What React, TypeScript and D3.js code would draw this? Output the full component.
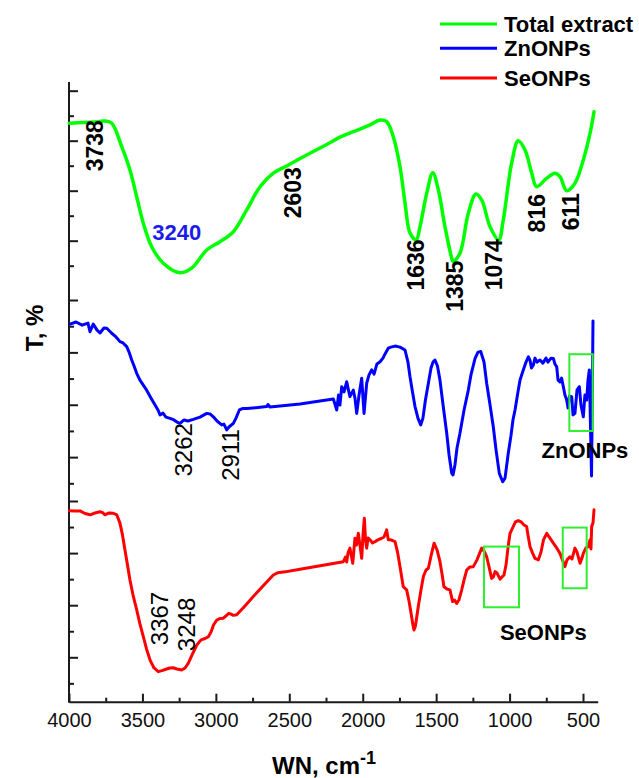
import React, { useEffect, useRef } from "react"
import * as d3 from "d3"

const xMajorTicks = [4000, 3500, 3000, 2500, 2000, 1500, 1000, 500]
const xMinorTicks = [3750, 3250, 2750, 2250, 1750, 1250, 750]
const yMajorTicks = [80, 60, 40, 20]
const yMinorTicks = [70, 50, 30, 10]

const seriesNames = ["Total extract", "ZnONPs", "SeONPs"]

// [wavenumber cm-1, transmittance (arb., per panel)]
const totalExtract: [number, number][] = [
  [3998, 67.0], [3900, 67.3], [3800, 67.6], [3755, 67.9], [3709, 67.0], [3641, 57.6],
  [3585, 48.3], [3539, 37.6], [3494, 27.0], [3437, 17.6], [3358, 11.0], [3244, 7.2],
  [3165, 9.0], [3062, 16.3], [2972, 19.6], [2881, 23.6], [2790, 32.3], [2699, 41.6],
  [2609, 47.0], [2518, 49.9], [2381, 54.3], [2245, 58.5], [2155, 61.4], [2064, 63.6],
  [1950, 66.3], [1882, 68.3], [1837, 67.6], [1792, 61.6], [1746, 49.6], [1712, 35.1],
  [1678, 23.1], [1636, 20.3], [1610, 25.6], [1564, 39.0], [1523, 47.2], [1485, 40.3],
  [1440, 25.6], [1394, 13.0], [1385, 11.6], [1338, 15.0], [1281, 31.0], [1229, 38.7],
  [1190, 36.3], [1133, 25.6], [1074, 20.3], [1043, 28.3], [986, 51.0], [941, 60.0],
  [895, 56.3], [849, 47.0], [816, 41.6], [747, 45.0], [691, 47.0], [657, 45.6],
  [611, 40.0], [555, 43.0], [498, 52.3], [452, 63.0], [425, 71.6],
]

const znONPs: [number, number][] = [
  [3993, 70.8], [3952, 71.6], [3911, 70.4], [3871, 71.2], [3857, 67.9], [3835, 70.8],
  [3809, 68.5], [3789, 67.4], [3762, 69.3], [3743, 69.2], [3709, 67.3], [3680, 65.9],
  [3653, 64.1], [3632, 63.6], [3607, 62.2], [3591, 60.1], [3573, 57.1], [3557, 54.8],
  [3539, 52.0], [3517, 49.4], [3494, 47.5], [3476, 46.0], [3460, 44.4], [3442, 42.6],
  [3414, 39.9], [3394, 38.0], [3380, 36.1], [3360, 36.8], [3340, 35.3], [3312, 34.8],
  [3285, 34.2], [3265, 33.4], [3244, 32.9], [3217, 34.2], [3190, 33.8], [3154, 34.4],
  [3108, 35.3], [3062, 36.7], [3040, 36.5], [3017, 35.4], [2992, 33.8], [2960, 32.3],
  [2945, 32.6], [2926, 30.4], [2911, 31.5], [2881, 32.9], [2863, 34.9], [2840, 38.0],
  [2815, 38.6], [2790, 38.6], [2727, 38.9], [2654, 39.3], [2645, 40.1], [2631, 39.1],
  [2427, 40.3], [2200, 42.2], [2177, 38.0], [2165, 43.7], [2155, 39.9], [2143, 46.9],
  [2127, 44.9], [2109, 48.8], [2097, 45.6], [2087, 43.1], [2064, 45.6], [2053, 42.6],
  [2041, 36.7], [2025, 43.7], [2007, 50.1], [1991, 36.7], [1973, 48.2], [1957, 51.4],
  [1939, 53.3], [1923, 51.7], [1903, 55.6], [1882, 56.4], [1862, 57.8], [1848, 59.4],
  [1826, 61.6], [1808, 62.0], [1780, 62.4], [1746, 62.0], [1712, 60.9], [1692, 56.3],
  [1678, 50.7], [1661, 44.9], [1644, 39.3], [1624, 34.9], [1605, 32.3], [1590, 34.9],
  [1573, 41.8], [1553, 48.2], [1535, 54.0], [1521, 56.3], [1508, 57.1], [1491, 54.8],
  [1474, 49.4], [1453, 39.9], [1428, 29.1], [1412, 20.8], [1394, 13.8], [1385, 13.2],
  [1372, 17.0], [1358, 23.5], [1338, 29.1], [1310, 38.0], [1281, 45.6], [1263, 51.4],
  [1235, 57.7], [1215, 60.1], [1196, 60.3], [1187, 58.6], [1174, 56.3], [1156, 48.2],
  [1133, 39.9], [1111, 31.6], [1092, 22.7], [1070, 13.8], [1047, 10.6], [1031, 12.0],
  [1009, 21.5], [990, 28.4], [977, 34.2], [963, 38.0], [943, 44.9], [929, 49.4],
  [909, 52.9], [888, 56.3], [872, 58.3], [861, 57.0], [851, 54.0], [838, 55.2],
  [827, 57.8], [813, 56.3], [793, 57.1], [773, 55.9], [752, 57.8], [739, 56.3],
  [718, 57.8], [702, 57.7], [691, 55.5], [679, 54.5], [670, 49.4], [657, 48.7],
  [646, 50.2], [634, 46.9], [623, 43.7], [611, 41.8], [602, 38.8], [592, 43.3],
  [577, 43.1], [568, 36.1], [555, 36.7], [541, 45.6], [525, 46.9], [514, 39.9],
  [498, 35.4], [487, 43.7], [475, 41.8], [466, 49.4], [457, 53.3], [442, 12.8],
  [432, 72.0],
]

const seONPs: [number, number][] = [
  [3998, 76.3], [3959, 76.2], [3925, 76.2], [3891, 75.2], [3857, 74.7], [3823, 75.4],
  [3789, 75.9], [3768, 75.4], [3755, 74.7], [3728, 75.4], [3698, 75.3], [3675, 74.7],
  [3653, 71.5], [3636, 67.0], [3619, 61.2], [3602, 55.5], [3585, 49.7], [3564, 43.9],
  [3539, 38.2], [3517, 32.8], [3494, 27.9], [3472, 23.2], [3448, 18.9], [3421, 15.9],
  [3392, 14.5], [3367, 14.9], [3335, 15.5], [3313, 15.9], [3291, 16.0], [3265, 15.5],
  [3233, 15.1], [3210, 15.9], [3188, 17.7], [3162, 20.9], [3130, 24.7], [3101, 26.7],
  [3074, 27.2], [3051, 27.9], [3033, 29.7], [3016, 32.4], [2994, 34.3], [2972, 34.9],
  [2949, 35.0], [2931, 35.9], [2914, 36.8], [2897, 36.6], [2880, 36.1], [2858, 36.3],
  [2802, 39.7], [2745, 43.3], [2679, 47.4], [2609, 51.6], [2577, 52.5], [2529, 52.8],
  [2427, 53.8], [2132, 56.7], [2117, 58.5], [2109, 56.6], [2100, 60.1], [2087, 61.9],
  [2068, 56.1], [2053, 65.7], [2042, 63.1], [2030, 67.6], [2019, 63.1], [2007, 58.0],
  [1998, 67.0], [1989, 73.4], [1981, 65.1], [1973, 61.9], [1964, 65.8], [1950, 65.1],
  [1933, 63.9], [1916, 64.4], [1896, 65.1], [1871, 65.7], [1855, 66.2], [1837, 68.9],
  [1826, 65.1], [1808, 65.1], [1780, 64.4], [1763, 60.4], [1746, 54.8], [1724, 47.1],
  [1701, 45.9], [1685, 41.6], [1667, 35.6], [1658, 32.4], [1651, 30.5], [1641, 32.0],
  [1622, 39.4], [1603, 45.9], [1587, 51.0], [1569, 53.5], [1553, 54.2], [1535, 58.9],
  [1514, 63.8], [1494, 61.2], [1474, 56.7], [1460, 52.0], [1447, 47.1], [1426, 46.2],
  [1406, 45.9], [1388, 41.4], [1375, 42.0], [1360, 40.7], [1345, 42.0], [1326, 45.9],
  [1310, 49.7], [1292, 53.5], [1270, 54.7], [1247, 54.8], [1222, 57.4], [1190, 61.9],
  [1174, 60.8], [1156, 58.6], [1140, 54.7], [1122, 50.3], [1110, 50.9], [1099, 52.9],
  [1086, 52.4], [1065, 50.0], [1052, 50.8], [1038, 51.6], [1024, 55.5], [1011, 62.0],
  [997, 67.6], [977, 70.0], [960, 72.0], [941, 72.5], [922, 72.0], [902, 70.8],
  [884, 70.2], [875, 67.0], [861, 62.5], [844, 60.1], [827, 58.0], [804, 57.4],
  [786, 60.4], [769, 65.1], [747, 67.6], [731, 66.2], [702, 63.8], [677, 61.8],
  [657, 59.9], [640, 57.4], [623, 54.8], [609, 57.4], [589, 58.6], [575, 57.8],
  [555, 61.9], [541, 60.4], [520, 56.1], [507, 58.1], [498, 59.9], [480, 62.0],
  [464, 62.5], [452, 65.1], [446, 61.6], [441, 70.2], [432, 71.6], [425, 76.6],
]

// peak labels: text, wavenumber and level where the label is centred
const totalLabels = [
  { text: "3738", wn: 3825, t: 58.0 },
  { text: "2603", wn: 2480, t: 39.2 },
  { text: "1636", wn: 1636, t: 10.3 },
  { text: "1385", wn: 1375, t: 1.8 },
  { text: "1074", wn: 1106, t: 10.4 },
  { text: "816", wn: 815, t: 31.0 },
  { text: "611", wn: 586, t: 31.6 },
]
const totalNote = { text: "3240", wn: 3267, t: 23.6 }
const znLabels = [
  { text: "3262", wn: 3220, t: 22.8 },
  { text: "2911", wn: 2898, t: 20.8 },
]
const seLabels = [
  { text: "3367", wn: 3388, t: 34.9 },
  { text: "3248", wn: 3204, t: 32.6 },
]
const znBoxes = [{ wn0: 593, wn1: 434, t0: 59.3, t1: 30.0 }]
const seBoxes = [
  { wn0: 1174, wn1: 936, t0: 62.5, t1: 39.2 },
  { wn0: 638, wn1: 475, t0: 69.8, t1: 46.5 },
]
const znTag = { text: "ZnONPs", wn: 487, t: 22.7 }
const seTag = { text: "SeONPs", wn: 770, t: 29.8 }

const W = 639
const H = 778
const FONT = "'Liberation Sans', Arial, Helvetica, sans-serif"
const colors = ["#00ff00", "#0000ff", "#ff0000"]
const panelRanges: [number, number][] = [
  [290.7, 90.7],
  [509.5, 300],
  [709.4, 501],
]
const axisY = 701.7

export default function App() {
  const svgRef = useRef<SVGSVGElement>(null)

  useEffect(() => {
    if (!svgRef.current) return
    const svg = d3.select(svgRef.current)
    svg.selectAll("*").remove()

    const x = d3.scaleLinear().domain([4000, 400]).range([69, 597.7])
    const ys = panelRanges.map((r) => d3.scaleLinear().domain([0, 80]).range(r))

    // x axis
    const gx = svg.append("g").attr("transform", `translate(0,${axisY})`)
    gx.call(
      d3
        .axisBottom(x)
        .tickValues(xMajorTicks)
        .tickSize(-8)
        .tickSizeOuter(0)
        .tickPadding(11)
        .tickFormat(d3.format("d"))
    )
    gx.append("g").call(
      d3.axisBottom(x).tickValues(xMinorTicks).tickSize(-4).tickFormat(() => "")
    )
    gx.selectAll("g > g > path.domain").remove()
    gx.selectAll("path.domain").attr("stroke", "#1a1a1a").attr("stroke-width", 2)
    gx.selectAll("line").attr("stroke", "#1a1a1a").attr("stroke-width", 2)
    gx.selectAll("text")
      .attr("font-family", FONT)
      .attr("font-size", 20)
      .attr("fill", "#111")

    // y axis line + per-panel ticks
    svg
      .append("line")
      .attr("x1", 69)
      .attr("x2", 69)
      .attr("y1", 82)
      .attr("y2", axisY + 1)
      .attr("stroke", "#1a1a1a")
      .attr("stroke-width", 2)
    ys.forEach((y) => {
      const g = svg.append("g").attr("transform", "translate(69,0)")
      g.call(d3.axisLeft(y).tickValues(yMajorTicks).tickSize(-9).tickFormat(() => ""))
      g.append("g").call(
        d3.axisLeft(y).tickValues(yMinorTicks).tickSize(-5).tickFormat(() => "")
      )
      g.selectAll("path.domain").remove()
      g.selectAll("line").attr("stroke", "#1a1a1a").attr("stroke-width", 2)
    })

    // spectra
    const series = [totalExtract, znONPs, seONPs]
    series.forEach((data, i) => {
      const line = d3
        .line<[number, number]>()
        .x((d) => x(d[0]))
        .y((d) => ys[i](d[1]))
        .curve(i === 0 ? d3.curveCatmullRom.alpha(0.5) : d3.curveLinear)
      svg
        .append("path")
        .datum(data)
        .attr("d", line)
        .attr("fill", "none")
        .attr("stroke", colors[i])
        .attr("stroke-width", i === 0 ? 3.5 : 3)
        .attr("stroke-linejoin", "round")
        .attr("stroke-linecap", "round")
    })

    // highlight boxes
    const boxes = [
      { y: ys[1], list: znBoxes },
      { y: ys[2], list: seBoxes },
    ]
    boxes.forEach(({ y, list }) => {
      svg
        .append("g")
        .selectAll("rect")
        .data(list)
        .enter()
        .append("rect")
        .attr("x", (d) => x(d.wn0))
        .attr("y", (d) => y(d.t0))
        .attr("width", (d) => x(d.wn1) - x(d.wn0))
        .attr("height", (d) => y(d.t1) - y(d.t0))
        .attr("fill", "none")
        .attr("stroke", "#2eee2e")
        .attr("stroke-width", 2)
    })

    // rotated peak labels
    const addRotated = (
      list: { text: string; wn: number; t: number }[],
      y: d3.ScaleLinear<number, number>,
      weight: string,
      size: number
    ) => {
      svg
        .append("g")
        .selectAll("text")
        .data(list)
        .enter()
        .append("text")
        .attr("transform", (d) => `translate(${x(d.wn)},${y(d.t)}) rotate(-90)`)
        .attr("text-anchor", "middle")
        .attr("dy", "0.36em")
        .attr("font-family", FONT)
        .attr("font-weight", weight)
        .attr("font-size", size)
        .attr("fill", "#000")
        .text((d) => d.text)
    }
    addRotated(totalLabels, ys[0], "bold", 23)
    addRotated(znLabels, ys[1], "normal", 24)
    addRotated(seLabels, ys[2], "normal", 24)

    svg
      .append("text")
      .attr("x", x(totalNote.wn))
      .attr("y", ys[0](totalNote.t))
      .attr("dy", "0.36em")
      .attr("text-anchor", "middle")
      .attr("font-family", FONT)
      .attr("font-weight", "bold")
      .attr("font-size", 22)
      .attr("fill", "#1c1ce8")
      .text(totalNote.text)

    const tags = [
      { tag: znTag, y: ys[1] },
      { tag: seTag, y: ys[2] },
    ]
    tags.forEach(({ tag, y }) => {
      svg
        .append("text")
        .attr("x", x(tag.wn))
        .attr("y", y(tag.t))
        .attr("dy", "0.36em")
        .attr("text-anchor", "middle")
        .attr("font-family", FONT)
        .attr("font-weight", "bold")
        .attr("font-size", 22)
        .attr("fill", "#000")
        .text(tag.text)
    })

    // legend
    const legendY = [24, 48.3, 78]
    seriesNames.forEach((name, i) => {
      svg
        .append("line")
        .attr("x1", 440)
        .attr("x2", 497)
        .attr("y1", legendY[i])
        .attr("y2", legendY[i])
        .attr("stroke", colors[i])
        .attr("stroke-width", 3)
      svg
        .append("text")
        .attr("x", 504)
        .attr("y", legendY[i])
        .attr("dy", "0.36em")
        .attr("font-family", FONT)
        .attr("font-weight", "bold")
        .attr("font-size", 22)
        .attr("fill", "#000")
        .text(name)
    })

    // axis titles
    svg
      .append("text")
      .attr("transform", "translate(34,328) rotate(-90)")
      .attr("text-anchor", "middle")
      .attr("dy", "0.36em")
      .attr("font-family", FONT)
      .attr("font-weight", "bold")
      .attr("font-size", 24)
      .text("T, %")

    const xt = svg
      .append("text")
      .attr("x", 324)
      .attr("y", 774)
      .attr("text-anchor", "middle")
      .attr("font-family", FONT)
      .attr("font-weight", "bold")
      .attr("font-size", 24)
    xt.append("tspan").text("WN, cm")
    xt.append("tspan").attr("dy", -10).attr("font-size", 18).text("-1")
  }, [])

  return (
    <svg
      ref={svgRef}
      width={W}
      height={H}
      style={{ position: "absolute", left: 0, top: 0, background: "#fff" }}
    />
  )
}
